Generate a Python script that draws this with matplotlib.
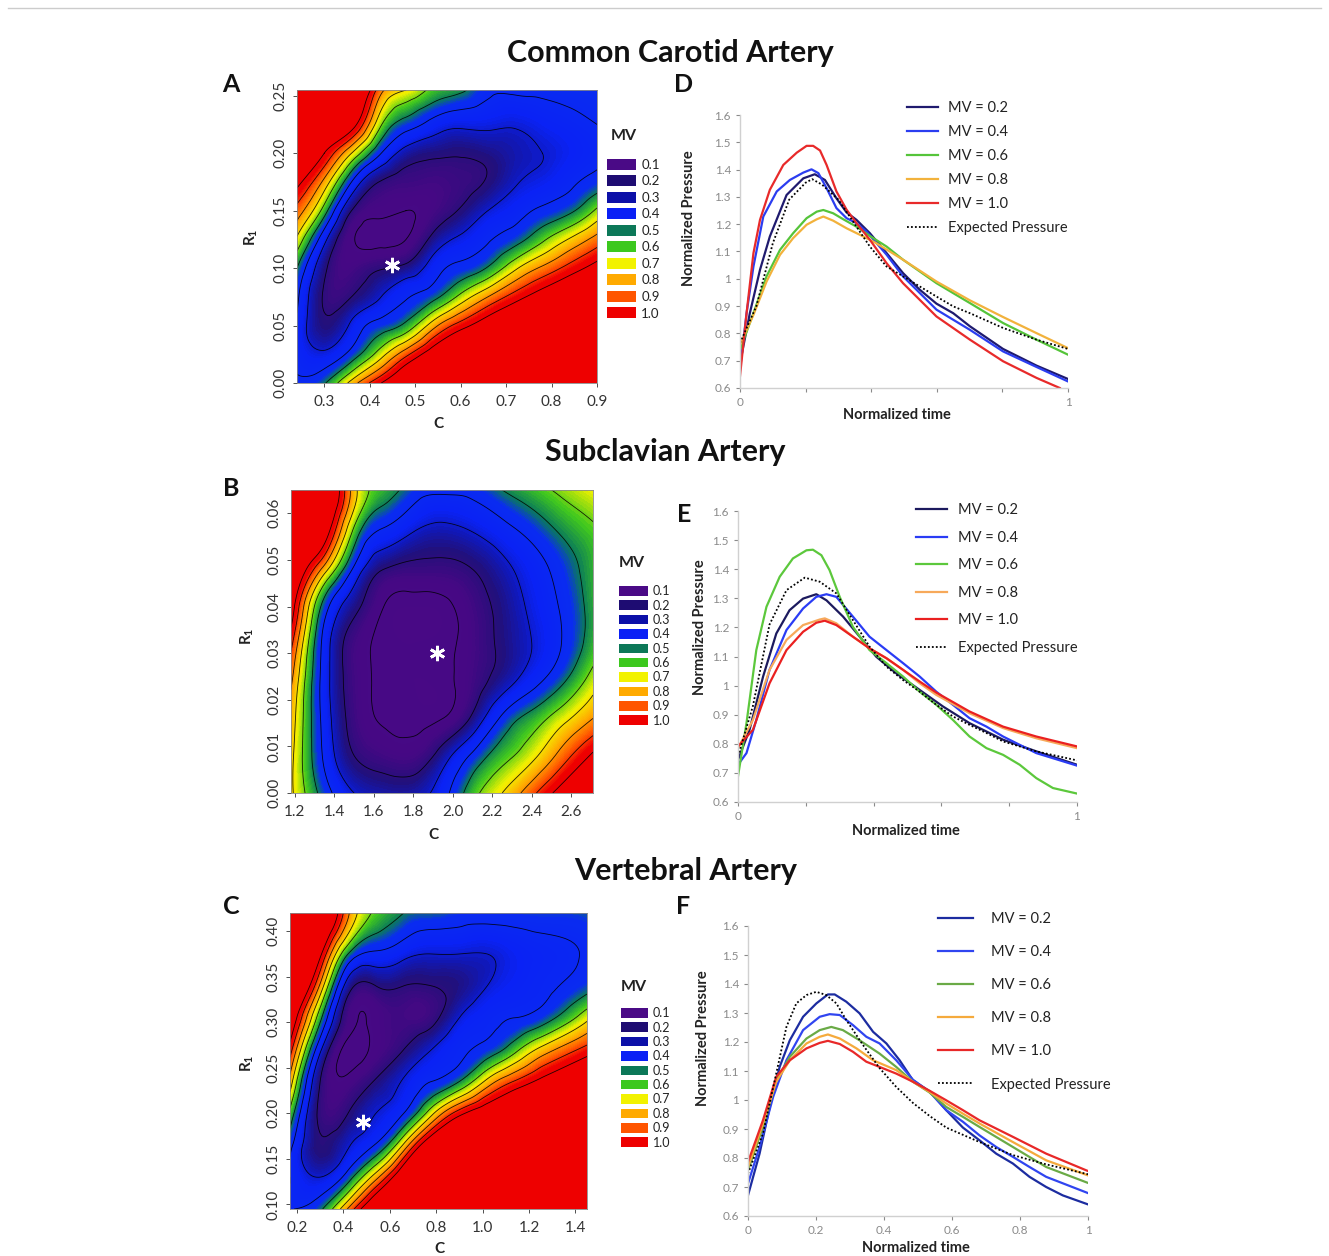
import numpy as np
import matplotlib
matplotlib.use("Agg")
import matplotlib.pyplot as plt
import matplotlib.tri as mtri
from matplotlib.colors import LinearSegmentedColormap
from matplotlib.patches import Patch
from matplotlib.lines import Line2D

plt.rcParams['font.family'] = ['Lato', 'DejaVu Sans']

W, H = 1329, 1256

# MV colour scale (legend swatches)
mv_levels = [0.1, 0.2, 0.3, 0.4, 0.5, 0.6, 0.7, 0.8, 0.9, 1.0]
mv_colors = ['#4a0a86', '#1e0c72', '#0c10a8', '#0a20f5', '#0c7858',
             '#3cc81e', '#f2f200', '#ffaa00', '#ff5500', '#ee0000']
# shading stops of the continuous map
shade_stops = [(0.0, '#4a0a86'), (0.14, '#450884'), (0.22, '#22107a'), (0.28, '#1018b8'),
               (0.34, '#0a22f5'), (0.45, '#0a2cf0'), (0.5, '#0a7a5a'), (0.58, '#40c81e'),
               (0.68, '#f2f200'), (0.78, '#ffaa00'), (0.88, '#ff5500'), (0.96, '#ee0000'),
               (1.0, '#ee0000')]

# ---- Panel A: common carotid, MV over (C, R1) grid (rows = R1 bottom->top)
a_c = [0.24, 0.30, 0.36, 0.42, 0.48, 0.54, 0.60, 0.66, 0.72, 0.78, 0.84, 0.90]
a_r1 = [0.0, 0.025, 0.05, 0.075, 0.1, 0.125, 0.15, 0.175, 0.2, 0.225, 0.255]
a_mv = [
    [0.42, 0.49, 0.74, 0.98, 1.21, 1.43, 1.59, 1.67, 1.74, 1.80, 1.87, 1.91],
    [0.38, 0.32, 0.44, 0.64, 0.87, 1.09, 1.27, 1.38, 1.48, 1.56, 1.64, 1.70],
    [0.38, 0.22, 0.32, 0.44, 0.53, 0.76, 0.95, 1.09, 1.21, 1.31, 1.41, 1.48],
    [0.42, 0.19, 0.20, 0.29, 0.39, 0.47, 0.63, 0.80, 0.95, 1.07, 1.18, 1.27],
    [0.50, 0.22, 0.14, 0.19, 0.23, 0.35, 0.43, 0.51, 0.68, 0.82, 0.94, 1.05],
    [0.68, 0.33, 0.11, 0.08, 0.10, 0.23, 0.32, 0.39, 0.46, 0.58, 0.71, 0.84],
    [0.86, 0.55, 0.20, 0.12, 0.10, 0.14, 0.21, 0.30, 0.36, 0.42, 0.48, 0.62],
    [1.04, 0.77, 0.40, 0.20, 0.16, 0.15, 0.17, 0.21, 0.29, 0.33, 0.38, 0.44],
    [1.22, 1.00, 0.70, 0.42, 0.26, 0.22, 0.21, 0.23, 0.27, 0.30, 0.34, 0.38],
    [1.40, 1.22, 1.07, 0.64, 0.45, 0.36, 0.32, 0.32, 0.31, 0.34, 0.37, 0.40],
    [1.61, 1.50, 1.35, 0.86, 0.70, 0.57, 0.52, 0.42, 0.42, 0.42, 0.43, 0.44],
]
a_star = (0.448, 0.103)

# ---- Panel B: subclavian
b_c = [1.18, 1.35, 1.5, 1.65, 1.8, 1.95, 2.1, 2.25, 2.4, 2.55, 2.71]
b_r1 = [0.0, 0.008, 0.016, 0.024, 0.032, 0.04, 0.048, 0.056, 0.065]
b_mv = [
    [0.72, 0.45, 0.30, 0.26, 0.26, 0.36, 0.56, 0.70, 0.87, 1.05, 1.20],
    [0.73, 0.38, 0.20, 0.15, 0.14, 0.25, 0.42, 0.56, 0.67, 0.84, 1.02],
    [0.76, 0.36, 0.16, 0.09, 0.08, 0.10, 0.22, 0.42, 0.54, 0.66, 0.80],
    [0.82, 0.35, 0.15, 0.08, 0.07, 0.08, 0.15, 0.25, 0.36, 0.48, 0.65],
    [0.93, 0.36, 0.15, 0.08, 0.07, 0.08, 0.14, 0.22, 0.30, 0.40, 0.55],
    [1.08, 0.45, 0.23, 0.10, 0.07, 0.08, 0.15, 0.23, 0.32, 0.41, 0.54],
    [1.20, 0.75, 0.38, 0.20, 0.17, 0.17, 0.20, 0.27, 0.35, 0.44, 0.55],
    [1.32, 1.08, 0.57, 0.38, 0.30, 0.27, 0.30, 0.36, 0.43, 0.51, 0.58],
    [1.50, 1.28, 0.74, 0.55, 0.45, 0.42, 0.43, 0.50, 0.56, 0.62, 0.68],
]
b_star = (1.918, 0.030)

# ---- Panel C: vertebral
c_c = [0.17, 0.3, 0.42, 0.54, 0.66, 0.78, 0.9, 1.02, 1.14, 1.26, 1.45]
c_r1 = [0.095, 0.13, 0.165, 0.2, 0.235, 0.27, 0.305, 0.34, 0.375, 0.42]
c_mv = [
    [0.40, 0.48, 0.81, 1.22, 1.66, 2.05, 2.20, 2.25, 2.28, 2.30, 2.33],
    [0.40, 0.30, 0.45, 0.76, 1.19, 1.67, 1.85, 1.90, 1.94, 1.97, 2.05],
    [0.43, 0.21, 0.29, 0.41, 0.72, 1.17, 1.42, 1.51, 1.60, 1.66, 1.77],
    [0.57, 0.18, 0.20, 0.30, 0.40, 0.67, 0.96, 1.12, 1.25, 1.35, 1.50],
    [0.76, 0.20, 0.12, 0.21, 0.31, 0.40, 0.50, 0.73, 0.91, 1.04, 1.22],
    [0.95, 0.32, 0.08, 0.12, 0.20, 0.30, 0.38, 0.44, 0.57, 0.74, 0.94],
    [1.14, 0.53, 0.14, 0.12, 0.15, 0.17, 0.30, 0.37, 0.40, 0.45, 0.67],
    [1.33, 0.78, 0.25, 0.20, 0.20, 0.20, 0.23, 0.30, 0.35, 0.38, 0.46],
    [1.52, 1.03, 0.50, 0.38, 0.33, 0.30, 0.30, 0.30, 0.34, 0.37, 0.41],
    [1.76, 1.36, 0.82, 0.58, 0.50, 0.48, 0.45, 0.45, 0.45, 0.46, 0.47],
]
c_star = (0.484, 0.19)

# ---- Panel D: pressure waves, common carotid
d_exp_t = [0, 0.05, 0.1, 0.15, 0.2, 0.22, 0.25, 0.3, 0.35, 0.396, 0.447, 0.497, 0.548, 0.599, 0.65, 0.701, 0.802, 0.904, 1.0]
d_exp_p = [0.765, 0.9, 1.13, 1.29, 1.352, 1.365, 1.345, 1.29, 1.2, 1.118, 1.045, 1.009, 0.972, 0.935, 0.899, 0.874, 0.82, 0.777, 0.743]
d_mv02_t = [0, 0.03, 0.061, 0.091, 0.142, 0.193, 0.228, 0.259, 0.294, 0.325, 0.355, 0.396, 0.447, 0.497, 0.548, 0.599, 0.65, 0.701, 0.802, 0.904, 1.0]
d_mv02_p = [0.69, 0.874, 1.033, 1.155, 1.307, 1.368, 1.383, 1.362, 1.295, 1.243, 1.216, 1.167, 1.094, 1.021, 0.96, 0.909, 0.874, 0.826, 0.743, 0.682, 0.633]
d_mv04_t = [0, 0.02, 0.041, 0.071, 0.112, 0.152, 0.193, 0.218, 0.239, 0.264, 0.294, 0.325, 0.355, 0.386, 0.447, 0.497, 0.548, 0.599, 0.701, 0.802, 0.904, 1.0]
d_mv04_p = [0.667, 0.874, 1.045, 1.228, 1.32, 1.362, 1.389, 1.401, 1.387, 1.332, 1.259, 1.222, 1.204, 1.173, 1.088, 1.009, 0.948, 0.887, 0.813, 0.734, 0.677, 0.624]
d_mv06_t = [0, 0.041, 0.081, 0.122, 0.162, 0.203, 0.234, 0.254, 0.284, 0.315, 0.355, 0.396, 0.447, 0.497, 0.599, 0.701, 0.802, 0.904, 1.0]
d_mv06_p = [0.74, 0.874, 1.009, 1.106, 1.167, 1.222, 1.246, 1.252, 1.24, 1.218, 1.191, 1.157, 1.118, 1.07, 0.984, 0.911, 0.838, 0.777, 0.722]
d_mv08_t = [0, 0.041, 0.081, 0.122, 0.162, 0.203, 0.234, 0.254, 0.284, 0.325, 0.376, 0.416, 0.497, 0.599, 0.701, 0.802, 0.904, 1.0]
d_mv08_p = [0.758, 0.868, 0.99, 1.088, 1.149, 1.198, 1.218, 1.228, 1.213, 1.185, 1.155, 1.13, 1.07, 0.99, 0.921, 0.86, 0.801, 0.746]
d_mv10_t = [0, 0.02, 0.041, 0.061, 0.091, 0.132, 0.173, 0.203, 0.223, 0.244, 0.264, 0.294, 0.325, 0.355, 0.396, 0.447, 0.497, 0.548, 0.599, 0.701, 0.802, 0.904, 0.975]
d_mv10_p = [0.643, 0.874, 1.094, 1.216, 1.326, 1.417, 1.462, 1.487, 1.487, 1.47, 1.417, 1.32, 1.253, 1.204, 1.143, 1.057, 0.984, 0.923, 0.862, 0.777, 0.698, 0.637, 0.6]

# ---- Panel E: subclavian
e_exp_t = [0, 0.044, 0.093, 0.143, 0.197, 0.241, 0.290, 0.339, 0.388, 0.438, 0.487, 0.536, 0.585, 0.634, 0.683, 0.733, 0.782, 0.880, 1.0]
e_exp_p = [0.757, 0.93, 1.21, 1.328, 1.371, 1.357, 1.317, 1.225, 1.134, 1.065, 1.019, 0.979, 0.934, 0.894, 0.865, 0.837, 0.808, 0.774, 0.743]
e_mv02_t = [0, 0.034, 0.074, 0.113, 0.152, 0.192, 0.231, 0.261, 0.310, 0.359, 0.408, 0.467, 0.536, 0.605, 0.683, 0.782, 0.880, 1.0]
e_mv02_p = [0.745, 0.848, 1.031, 1.179, 1.259, 1.299, 1.314, 1.293, 1.237, 1.168, 1.099, 1.042, 0.985, 0.928, 0.871, 0.814, 0.774, 0.728]
e_mv04_t = [0, 0.025, 0.054, 0.093, 0.143, 0.192, 0.231, 0.261, 0.290, 0.339, 0.388, 0.438, 0.487, 0.536, 0.585, 0.634, 0.683, 0.733, 0.782, 0.880, 1.0]
e_mv04_p = [0.728, 0.768, 0.882, 1.054, 1.191, 1.265, 1.305, 1.314, 1.305, 1.237, 1.168, 1.122, 1.077, 1.031, 0.979, 0.934, 0.888, 0.859, 0.825, 0.768, 0.725]
e_mv06_t = [0, 0.025, 0.054, 0.084, 0.123, 0.162, 0.202, 0.221, 0.246, 0.270, 0.300, 0.339, 0.388, 0.438, 0.487, 0.536, 0.585, 0.634, 0.683, 0.733, 0.782, 0.831, 0.880, 0.929, 1.0]
e_mv06_p = [0.688, 0.871, 1.122, 1.271, 1.374, 1.437, 1.465, 1.467, 1.448, 1.397, 1.305, 1.202, 1.122, 1.077, 1.031, 0.979, 0.934, 0.882, 0.825, 0.785, 0.762, 0.728, 0.682, 0.648, 0.629]
e_mv08_t = [0, 0.044, 0.093, 0.143, 0.192, 0.241, 0.256, 0.290, 0.339, 0.388, 0.438, 0.487, 0.536, 0.585, 0.683, 0.782, 0.880, 1.0]
e_mv08_p = [0.785, 0.882, 1.054, 1.157, 1.208, 1.227, 1.231, 1.214, 1.168, 1.128, 1.094, 1.054, 1.008, 0.968, 0.905, 0.854, 0.819, 0.785]
e_mv10_t = [0, 0.044, 0.093, 0.143, 0.192, 0.231, 0.256, 0.290, 0.339, 0.388, 0.438, 0.487, 0.536, 0.585, 0.683, 0.782, 0.880, 1.0]
e_mv10_p = [0.791, 0.848, 1.008, 1.122, 1.185, 1.216, 1.223, 1.208, 1.168, 1.128, 1.094, 1.054, 1.014, 0.976, 0.911, 0.859, 0.825, 0.791]

# ---- Panel F: vertebral
f_exp_t = [0, 0.044, 0.083, 0.113, 0.142, 0.172, 0.201, 0.230, 0.260, 0.289, 0.338, 0.387, 0.436, 0.485, 0.534, 0.583, 0.632, 0.681, 0.779, 0.877, 1.0]
f_exp_p = [0.746, 0.884, 1.091, 1.252, 1.333, 1.362, 1.373, 1.362, 1.333, 1.276, 1.19, 1.11, 1.045, 0.99, 0.945, 0.905, 0.88, 0.855, 0.81, 0.778, 0.744]
f_mv02_t = [0, 0.034, 0.064, 0.093, 0.123, 0.162, 0.201, 0.235, 0.255, 0.289, 0.328, 0.368, 0.407, 0.446, 0.485, 0.534, 0.583, 0.632, 0.681, 0.730, 0.779, 0.828, 0.877, 0.926, 1.0]
f_mv02_p = [0.671, 0.815, 0.976, 1.114, 1.206, 1.287, 1.333, 1.364, 1.364, 1.339, 1.299, 1.235, 1.195, 1.137, 1.068, 1.03, 0.965, 0.905, 0.861, 0.815, 0.781, 0.735, 0.7, 0.671, 0.64]
f_mv04_t = [0, 0.034, 0.074, 0.113, 0.162, 0.211, 0.240, 0.270, 0.309, 0.348, 0.387, 0.436, 0.485, 0.534, 0.583, 0.632, 0.681, 0.730, 0.779, 0.828, 0.877, 1.0]
f_mv04_p = [0.712, 0.838, 1.011, 1.137, 1.241, 1.287, 1.296, 1.293, 1.258, 1.218, 1.195, 1.137, 1.07, 1.028, 0.965, 0.925, 0.878, 0.838, 0.804, 0.769, 0.735, 0.679]
f_mv06_t = [0, 0.044, 0.083, 0.123, 0.172, 0.211, 0.245, 0.279, 0.328, 0.387, 0.436, 0.485, 0.534, 0.583, 0.632, 0.681, 0.779, 0.877, 1.0]
f_mv06_p = [0.758, 0.907, 1.068, 1.149, 1.212, 1.241, 1.252, 1.241, 1.206, 1.16, 1.114, 1.063, 1.026, 0.976, 0.942, 0.907, 0.838, 0.769, 0.714]
f_mv08_t = [0, 0.044, 0.083, 0.123, 0.172, 0.211, 0.235, 0.270, 0.319, 0.368, 0.436, 0.485, 0.534, 0.583, 0.632, 0.681, 0.779, 0.877, 1.0]
f_mv08_p = [0.769, 0.919, 1.063, 1.137, 1.195, 1.218, 1.226, 1.212, 1.178, 1.137, 1.103, 1.063, 1.028, 0.988, 0.953, 0.919, 0.855, 0.792, 0.74]
f_mv10_t = [0, 0.044, 0.083, 0.123, 0.172, 0.211, 0.235, 0.270, 0.309, 0.348, 0.387, 0.436, 0.485, 0.534, 0.583, 0.632, 0.681, 0.779, 0.877, 1.0]
f_mv10_p = [0.786, 0.93, 1.08, 1.137, 1.178, 1.197, 1.204, 1.193, 1.166, 1.132, 1.114, 1.091, 1.063, 1.032, 0.999, 0.965, 0.93, 0.873, 0.815, 0.755]

mv_labels = ['MV = 0.2', 'MV = 0.4', 'MV = 0.6', 'MV = 0.8', 'MV = 1.0']
d_colors = ['#1f1a6e', '#2b3df0', '#55c43a', '#f2b23c', '#e82a2a']
e_colors = ['#1c1a5e', '#2a3cf5', '#5cc83c', '#f7a95a', '#ea2020']
f_colors = ['#1c2ca0', '#3045f0', '#6aaa46', '#f5aa3c', '#e82828']

cmap = LinearSegmentedColormap.from_list('mv', shade_stops)
cmap.set_under(mv_colors[0])
cmap.set_over(mv_colors[-1])

fig = plt.figure(figsize=(W / 100, H / 100), dpi=100)


def px_axes(l, t, r, b):
    return fig.add_axes([l / W, 1 - b / H, (r - l) / W, (b - t) / H])


def draw_map(ax, cvals, rvals, mv, xticks, yticks, star, clab, rlab,
             leg_xy, leg_fs, leg_sp, leg_hl, leg_hh, mv_xy):
    cvals = np.asarray(cvals, float)
    rvals = np.asarray(rvals, float)
    cw, rh = cvals[-1] - cvals[0], rvals[-1] - rvals[0]
    u, v = np.meshgrid((cvals - cvals[0]) / cw, (rvals - rvals[0]) / rh)
    tri = mtri.Triangulation(u.ravel(), v.ravel())
    fine, zf = mtri.UniformTriRefiner(tri).refine_field(np.asarray(mv, float).ravel(), subdiv=4)
    fine = mtri.Triangulation(cvals[0] + fine.x * cw, rvals[0] + fine.y * rh, fine.triangles)
    cf = ax.tricontourf(fine, zf, levels=np.linspace(0, 1, 101), cmap=cmap, extend='both')
    cf.set_edgecolor('face')
    cf.set_linewidth(0.3)
    ax.tricontour(fine, zf, levels=mv_levels, colors='black', linewidths=0.6, alpha=0.85)
    ax.plot(star[0], star[1], marker=(6, 2, 0), ms=11, mew=2, color='white', ls='none')
    ax.set_xlim(cvals[0], cvals[-1])
    ax.set_ylim(rvals[0], rvals[-1])
    ax.set_xticks(xticks)
    ax.set_xticklabels(['%.1f' % x for x in xticks])
    ax.set_yticks(yticks)
    ax.set_yticklabels(['%.2f' % y for y in yticks], rotation=90, va='center')
    ax.tick_params(labelsize=11, colors='#333333', length=3, width=0.6)
    ax.tick_params(axis='x', pad=6)
    for s in ax.spines.values():
        s.set_color('#888888')
        s.set_linewidth(0.6)
    ax.set_xlabel('C', fontsize=11, fontweight='bold', color='#222222')
    ax.xaxis.set_label_coords(*clab)
    ax.set_ylabel(r'R$_\mathregular{1}$', fontsize=11, fontweight='bold', color='#222222')
    ax.yaxis.set_label_coords(*rlab)
    handles = [Patch(facecolor=c, edgecolor='none', label='%.1f' % lv)
               for lv, c in zip(mv_levels, mv_colors)]
    leg = ax.legend(handles=handles, loc='upper left', bbox_to_anchor=leg_xy,
                    frameon=False, fontsize=leg_fs, handlelength=leg_hl, handleheight=leg_hh,
                    labelspacing=leg_sp, handletextpad=0.4, borderpad=0, borderaxespad=0)
    for txt in leg.get_texts():
        txt.set_color('#222222')
    ax.text(mv_xy[0], mv_xy[1], 'MV', transform=ax.transAxes, ha='center', va='center',
            fontsize=11.5, fontweight='bold', color='#222222')


def draw_pressure(ax, curves, colors, exp_t, exp_p, all_xlabels, lab_y, lab_x,
                  leg_xy, leg_sp, leg_len, leg_pad):
    for (t, p), col, lab in zip(curves, colors, mv_labels):
        ax.plot(t, p, color=col, lw=1.6, label=lab)
    ax.plot(exp_t, exp_p, color='black', ls=(0, (1, 1.2)), lw=1.3, label='Expected Pressure')
    ax.set_xlim(0, 1)
    ax.set_ylim(0.6, 1.6)
    xt = [0, 0.2, 0.4, 0.6, 0.8, 1.0]
    ax.set_xticks(xt)
    if all_xlabels:
        ax.set_xticklabels(['0', '0.2', '0.4', '0.6', '0.8', '1'])
    else:
        ax.set_xticklabels(['0', '', '', '', '', '1'])
    yt = [0.6, 0.7, 0.8, 0.9, 1.0, 1.1, 1.2, 1.3, 1.4, 1.5, 1.6]
    ax.set_yticks(yt)
    ax.set_yticklabels(['%g' % y for y in yt])
    ax.tick_params(labelsize=8.5, colors='#8a8a8a', length=3, width=0.8)
    for s in ['top', 'right']:
        ax.spines[s].set_visible(False)
    for s in ['left', 'bottom']:
        ax.spines[s].set_color('#d0d0d0')
        ax.spines[s].set_linewidth(1.0)
    ax.set_ylabel('Normalized Pressure', fontsize=10.5, fontweight='bold', color='#222222')
    ax.yaxis.set_label_coords(*lab_y)
    ax.set_xlabel('Normalized time', fontsize=10.5, fontweight='bold', color='#222222')
    ax.xaxis.set_label_coords(*lab_x)
    ax.legend(loc='upper left', bbox_to_anchor=leg_xy, frameon=False, fontsize=10.5,
              handlelength=leg_len, handletextpad=leg_pad, labelspacing=leg_sp,
              borderpad=0, borderaxespad=0, labelcolor='#222222')


# Maps
ax_a = px_axes(297, 90, 597, 383)
draw_map(ax_a, a_c, a_r1, a_mv, [0.3, 0.4, 0.5, 0.6, 0.7, 0.8, 0.9],
         [0, 0.05, 0.10, 0.15, 0.20, 0.25], a_star,
         (0.473, -0.116), (-0.123, 0.498), (1.033, 0.765), 9.5, 0.34, 2.2, 0.9, (1.09, 0.843))

ax_b = px_axes(291, 490, 593, 793)
draw_map(ax_b, b_c, b_r1, b_mv, [1.2, 1.4, 1.6, 1.8, 2.0, 2.2, 2.4, 2.6],
         [0, 0.01, 0.02, 0.03, 0.04, 0.05, 0.06], b_star,
         (0.473, -0.115), (-0.116, 0.518), (1.086, 0.686), 9, 0.19, 2.3, 0.8, (1.129, 0.759))

ax_c = px_axes(290, 913, 587, 1209)
draw_map(ax_c, c_c, c_r1, c_mv, [0.2, 0.4, 0.6, 0.8, 1.0, 1.2, 1.4],
         [0.10, 0.15, 0.20, 0.25, 0.30, 0.35, 0.40], c_star,
         (0.502, -0.11), (-0.114, 0.493), (1.114, 0.682), 9, 0.19, 2.16, 0.8, (1.158, 0.75))

# Pressure waves
ax_d = px_axes(740, 115, 1068, 388)
draw_pressure(ax_d, [(d_mv02_t, d_mv02_p), (d_mv04_t, d_mv04_p), (d_mv06_t, d_mv06_p),
                     (d_mv08_t, d_mv08_p), (d_mv10_t, d_mv10_p)], d_colors,
              d_exp_t, d_exp_p, False, (-0.135, 0.623), (0.479, -0.074),
              (0.509, 1.051), 0.69, 2.1, 0.7)

ax_e = px_axes(738, 511, 1077, 802)
draw_pressure(ax_e, [(e_mv02_t, e_mv02_p), (e_mv04_t, e_mv04_p), (e_mv06_t, e_mv06_p),
                     (e_mv08_t, e_mv08_p), (e_mv10_t, e_mv10_p)], e_colors,
              e_exp_t, e_exp_p, False, (-0.092, 0.60), (0.496, -0.076),
              (0.525, 1.027), 0.93, 2.1, 0.8)

ax_f = px_axes(748, 926, 1088, 1216)
draw_pressure(ax_f, [(f_mv02_t, f_mv02_p), (f_mv04_t, f_mv04_p), (f_mv06_t, f_mv06_p),
                     (f_mv08_t, f_mv08_p), (f_mv10_t, f_mv10_p)], f_colors,
              f_exp_t, f_exp_p, True, (-0.112, 0.614), (0.494, -0.085),
              (0.559, 1.048), 1.31, 2.4, 1.2)

# Titles and panel letters
for txt, x, y in [('Common Carotid Artery', 670, 53), ('Subclavian Artery', 665, 452),
                  ('Vertebral Artery', 686, 871)]:
    fig.text(x / W, 1 - y / H, txt, ha='center', va='center', fontsize=22,
             fontweight='bold', color='#111111')
for txt, x, y in [('A', 231, 85), ('B', 231, 488), ('C', 231, 907),
                  ('D', 684, 85), ('E', 684, 515), ('F', 683, 907)]:
    fig.text(x / W, 1 - y / H, txt, ha='center', va='center', fontsize=18,
             fontweight='bold', color='#111111')

fig.add_artist(Line2D([8 / W, 1321 / W], [1 - 8 / H, 1 - 8 / H], color='#cccccc', lw=1))

fig.savefig('out.png', dpi=100)
